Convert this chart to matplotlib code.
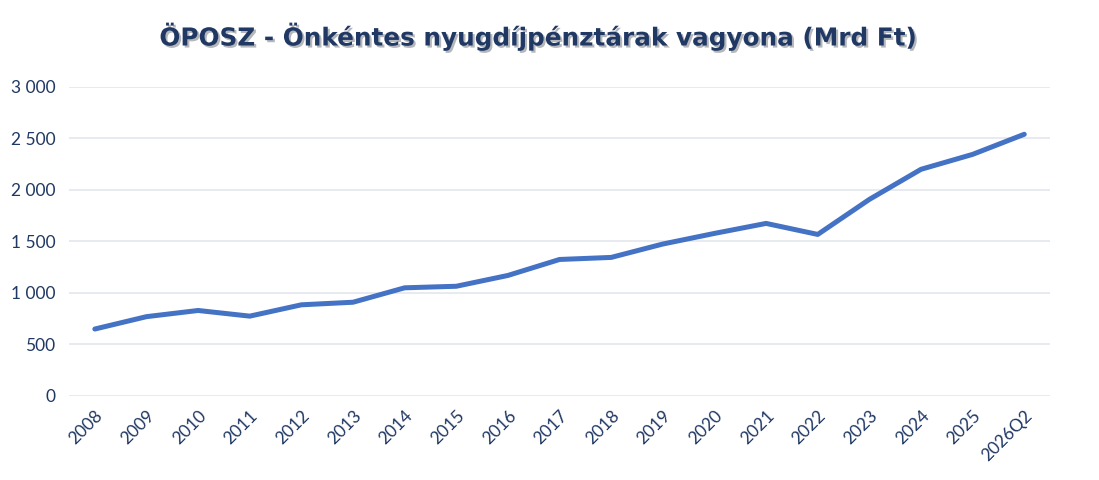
import matplotlib
matplotlib.use('Agg')
import matplotlib.pyplot as plt
import matplotlib.patheffects as pe
from matplotlib.ticker import FuncFormatter

# chart data (Mrd Ft)
years = ['2008', '2009', '2010', '2011', '2012', '2013', '2014', '2015', '2016',
         '2017', '2018', '2019', '2020', '2021', '2022', '2023', '2024', '2025', '2026Q2']
assets = [650, 770, 830, 775, 885, 910, 1050, 1065, 1170,
          1325, 1345, 1475, 1578, 1675, 1568, 1908, 2200, 2345, 2540]

navy = '#203864'
blue = '#4472C4'

plt.rcParams['font.family'] = ['Lato', 'DejaVu Sans']

fig = plt.figure(figsize=(10.99, 4.8), dpi=100)
ax = fig.add_axes([0.0628, 0.175, 0.8927, 0.644])

ax.plot(range(len(years)), assets, color=blue, linewidth=3.6, solid_capstyle='round', zorder=3)

ax.set_xlim(-0.5, len(years) - 0.5)
ax.set_ylim(0, 3000)
ax.set_yticks(range(0, 3001, 500))
ax.yaxis.set_major_formatter(FuncFormatter(lambda v, p: f'{int(v):,}'.replace(',', ' ')))
ax.set_xticks(range(len(years)))
ax.set_xticklabels(years, rotation=45, ha='right', rotation_mode='anchor')

ax.grid(axis='y', color='#E3E6EC', linewidth=1.2)
ax.set_axisbelow(True)
for s in ax.spines.values():
    s.set_visible(False)
ax.tick_params(length=0, labelsize=12.5, colors=navy, pad=8)
ax.tick_params(axis='y', pad=10)

# title: wide bold face with a soft shadow
fig.text(0.491, 0.925, 'ÖPOSZ - Önkéntes nyugdíjpénztárak vagyona (Mrd Ft)',
         ha='center', va='center', fontsize=17.8, fontweight='bold', color=navy,
         family='DejaVu Sans',
         path_effects=[pe.SimplePatchShadow(offset=(1.5, -1.5), alpha=0.3), pe.Normal()])

fig.savefig('out.png', dpi=100)
